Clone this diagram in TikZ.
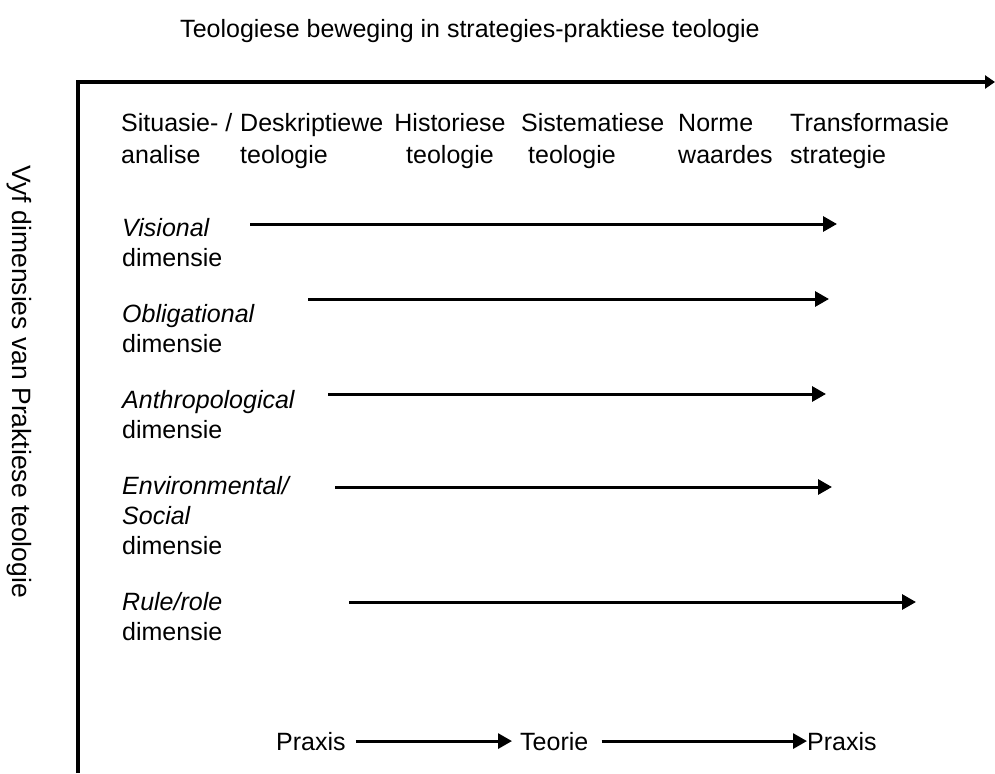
\documentclass[tikz,border=0pt]{standalone}
\usepackage{fontspec}
\setmainfont{Liberation Sans}
\usetikzlibrary{arrows.meta, positioning}

\begin{document}
\begin{tikzpicture}[x=1pt, y=-1pt, font=\fontsize{25}{30}\selectfont,
    label/.style={inner sep=0pt, align=left, anchor=base west},
    stage/.style={label, font=\fontsize{25}{32}\selectfont},
    dimarrow/.style={line width=3pt, -{Triangle[length=14pt, width=15pt]}},
    axis/.style={line width=3.5pt, -{Triangle[length=10pt, width=13pt]}}]
    \useasboundingbox (0,0) rectangle (995,773);

    % titles
    \node[inner sep=0pt, anchor=base] (title) at (470,38) {Teologiese beweging in strategies-praktiese teologie};
    \node[inner sep=0pt, rotate=-90, font=\fontsize{26.5}{30}\selectfont] (vlabel) at (19,382) {Vyf dimensies van Praktiese teologie};

    % axes
    \coordinate (yend) at (78,773);
    \coordinate (origin) at (78,82);
    \coordinate (xend) at (995,82);
    \draw[axis] (yend) -- (origin) -- (xend);

    % movement stages (base = last line)
    \node[stage] (sit) at (121,163) {Situasie- /\\analise};
    \node[stage] (desk) at (240,163) {Deskriptiewe\\teologie};
    \node[stage, align=center, anchor=base] (hist) at (450,163) {Historiese\\teologie};
    \node[stage] (sis) at (521,163) {Sistematiese\\\ teologie};
    \node[stage] (norm) at (678,163) {Norme\\waardes};
    \node[stage] (trans) at (790,163) {Transformasie\\strategie};

    % five dimensions
    \node[label] (vis) at (122,266) {\textit{Visional}\\dimensie};
    \node[label] (obl) at (122,352) {\textit{Obligational}\\dimensie};
    \node[label] (ant) at (122,438) {\textit{Anthropological}\\dimensie};
    \node[label] (env) at (122,554) {\textit{Environmental/}\\\textit{Social}\\dimensie};
    \node[label] (rul) at (122,640) {\textit{Rule/role}\\dimensie};

    \coordinate (vis-s) at (250,224);  \coordinate (vis-e) at (837,224);
    \coordinate (obl-s) at (308,299);  \coordinate (obl-e) at (829,299);
    \coordinate (ant-s) at (328,394);  \coordinate (ant-e) at (826,394);
    \coordinate (env-s) at (335,487);  \coordinate (env-e) at (832,487);
    \coordinate (rul-s) at (349,602);  \coordinate (rul-e) at (916,602);
    \draw[dimarrow] (vis-s) -- (vis-e);
    \draw[dimarrow] (obl-s) -- (obl-e);
    \draw[dimarrow] (ant-s) -- (ant-e);
    \draw[dimarrow] (env-s) -- (env-e);
    \draw[dimarrow] (rul-s) -- (rul-e);

    % praxis - teorie - praxis
    \node[label] (praxis1) at (276,750) {Praxis};
    \node[label] (teorie) at (520,750) {Teorie};
    \node[label] (praxis2) at (807,750) {Praxis};
    \draw[dimarrow, shorten <=10pt, shorten >=8pt] (praxis1) -- (teorie);
    \draw[dimarrow, shorten <=13pt] (teorie) -- (praxis2);
\end{tikzpicture}
\end{document}
